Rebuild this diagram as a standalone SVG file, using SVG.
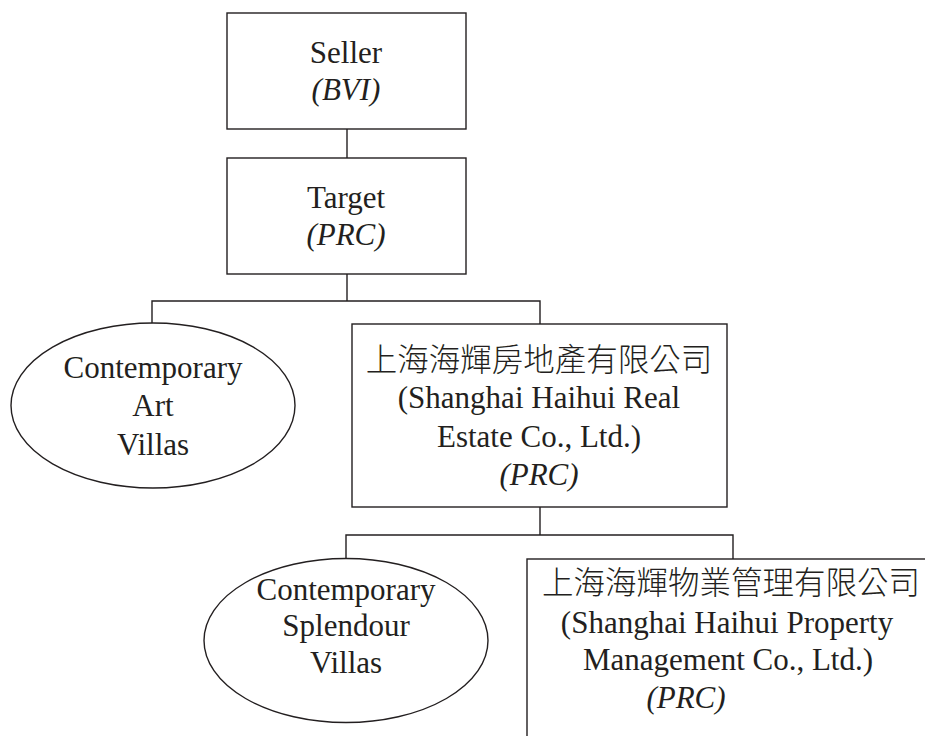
<svg xmlns="http://www.w3.org/2000/svg" width="925" height="736" viewBox="0 0 925 736">
<style>
.b{fill:#fff;stroke:#231f20;stroke-width:1.4}
.c{fill:none;stroke:#231f20;stroke-width:1.4}
text{font-family:"Liberation Serif","Noto Sans CJK TC",serif;font-size:31px;fill:#231f20;text-anchor:middle}
.i{font-style:italic}
.z{font-family:"Noto Sans CJK TC","Liberation Serif",sans-serif;font-size:31.5px;font-weight:300}
</style>
<rect width="925" height="736" fill="#fff"/>
<g id="connectors">
<line class="c" x1="347" y1="129" x2="347" y2="158"/>
<line class="c" x1="347" y1="274" x2="347" y2="301"/>
<polyline class="c" points="152,323 152,301 540,301 540,324"/>
<line class="c" x1="540" y1="507" x2="540" y2="535"/>
<polyline class="c" points="346,558 346,535 733,535 733,559"/>
</g>
<g id="seller">
<rect class="b" x="227" y="13" width="239" height="116"/>
<text x="346" y="63">Seller</text>
<text class="i" x="346" y="100">(BVI)</text>
</g>
<g id="target">
<rect class="b" x="227" y="158" width="239" height="116"/>
<text x="346" y="208">Target</text>
<text class="i" x="346" y="245">(PRC)</text>
</g>
<g id="art-villas">
<ellipse class="b" cx="153" cy="405.5" rx="142" ry="82.5"/>
<text x="153" y="378">Contemporary</text>
<text x="153" y="416">Art</text>
<text x="153" y="455">Villas</text>
</g>
<g id="real-estate">
<rect class="b" x="352" y="324" width="375" height="183"/>
<text class="z" x="539" y="371">上海海輝房地產有限公司</text>
<text x="539" y="408">(Shanghai Haihui Real</text>
<text x="539" y="447">Estate Co., Ltd.)</text>
<text class="i" x="539" y="485">(PRC)</text>
</g>
<g id="splendour-villas">
<ellipse class="b" cx="346" cy="640.5" rx="142" ry="82"/>
<text x="346" y="600">Contemporary</text>
<text x="346" y="636">Splendour</text>
<text x="346" y="673">Villas</text>
</g>
<g id="property-mgmt">
<rect class="b" x="527" y="559" width="420" height="200"/>
<text class="z" x="731" y="594">上海海輝物業管理有限公司</text>
<text x="727" y="633">(Shanghai Haihui Property</text>
<text x="728" y="670">Management Co., Ltd.)</text>
<text class="i" x="686" y="708">(PRC)</text>
</g>
</svg>
